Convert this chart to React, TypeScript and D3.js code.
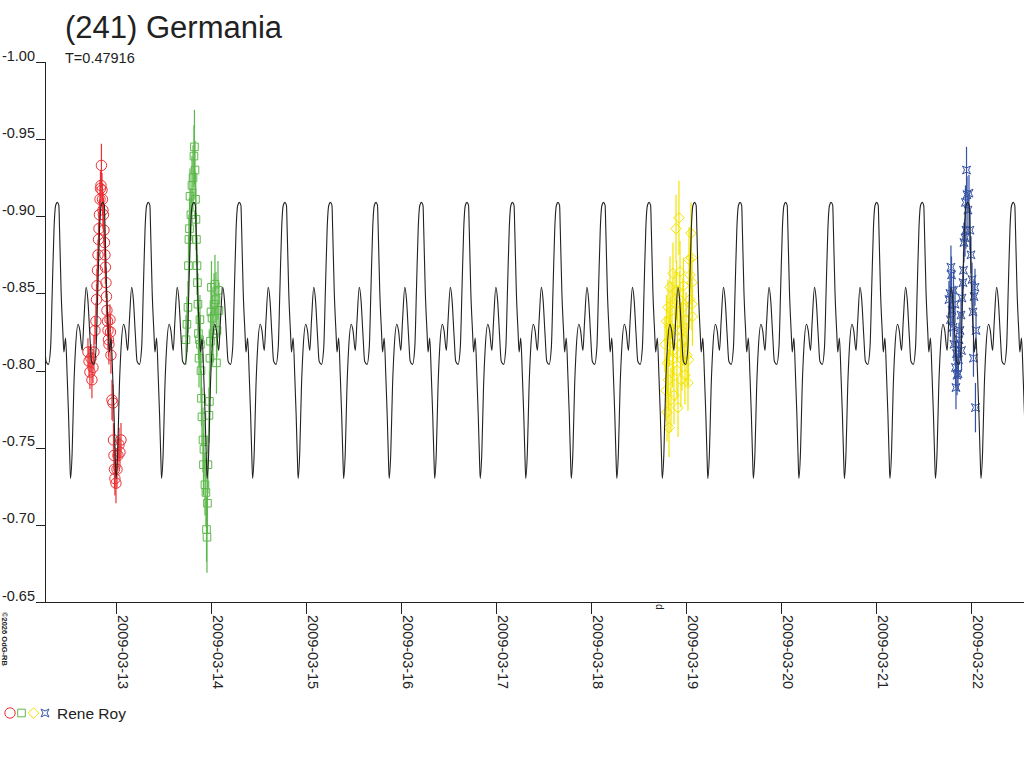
import { useRef, useEffect } from "react";
import * as d3 from "d3";

// [JD - 2454900, relative magnitude, error]
type Obs = [number, number, number];

const title = "(241) Germania";
const periodLabel = "T=0.47916";
const period = 0.47916;
const epoch = 5.758; // a maximum, JD - 2454900
const jdOffset = 2454900;
const observer = "Rene Roy";
const credit = "©2026 OdG-RB";
const unitLabel = "d";

const timeDomain = [2.753, 13.058];
const magDomain = [-1.0, -0.65];

const dateTicks = [
  "2009-03-13",
  "2009-03-14",
  "2009-03-15",
  "2009-03-16",
  "2009-03-17",
  "2009-03-18",
  "2009-03-19",
  "2009-03-20",
  "2009-03-21",
  "2009-03-22",
];
const magTicks = [-1.0, -0.95, -0.9, -0.85, -0.8, -0.75, -0.7, -0.65];

// one cycle of the fitted lightcurve: [phase, magnitude]
const modelProfile: [number, number][] = [
  [0.0, -0.909],
  [0.033, -0.907],
  [0.048, -0.892],
  [0.083, -0.851],
  [0.121, -0.825],
  [0.143, -0.812],
  [0.18, -0.821],
  [0.215, -0.797],
  [0.246, -0.771],
  [0.275, -0.741],
  [0.29, -0.73],
  [0.325, -0.747],
  [0.362, -0.789],
  [0.4, -0.815],
  [0.457, -0.83],
  [0.494, -0.826],
  [0.545, -0.813],
  [0.582, -0.832],
  [0.633, -0.854],
  [0.67, -0.846],
  [0.714, -0.823],
  [0.751, -0.806],
  [0.802, -0.804],
  [0.852, -0.815],
  [0.89, -0.854],
  [0.927, -0.892],
  [0.962, -0.907],
];

const redObs: Obs[] = [
  [3.205, -0.812, 0.009], [3.216, -0.806, 0.01], [3.226, -0.799, 0.011],
  [3.237, -0.808, 0.009], [3.247, -0.794, 0.012], [3.258, -0.802, 0.01],
  [3.268, -0.812, 0.011], [3.279, -0.826, 0.009], [3.289, -0.832, 0.012],
  [3.295, -0.846, 0.01], [3.3, -0.855, 0.011], [3.305, -0.865, 0.012],
  [3.311, -0.875, 0.01], [3.316, -0.885, 0.011], [3.321, -0.892, 0.009],
  [3.326, -0.901, 0.01], [3.332, -0.911, 0.012], [3.337, -0.918, 0.011],
  [3.342, -0.92, 0.01], [3.347, -0.933, 0.014], [3.353, -0.917, 0.011],
  [3.358, -0.911, 0.01], [3.363, -0.904, 0.012], [3.368, -0.901, 0.011],
  [3.374, -0.891, 0.01], [3.379, -0.883, 0.009], [3.384, -0.875, 0.012],
  [3.389, -0.867, 0.011], [3.395, -0.857, 0.01], [3.4, -0.848, 0.012],
  [3.405, -0.839, 0.011], [3.411, -0.832, 0.01], [3.416, -0.826, 0.012],
  [3.421, -0.82, 0.011], [3.426, -0.817, 0.013], [3.437, -0.833, 0.01],
  [3.442, -0.825, 0.011], [3.447, -0.81, 0.012], [3.458, -0.781, 0.013],
  [3.468, -0.779, 0.012], [3.474, -0.755, 0.011], [3.479, -0.745, 0.01],
  [3.484, -0.736, 0.012], [3.489, -0.73, 0.011], [3.5, -0.727, 0.013],
  [3.511, -0.736, 0.012], [3.521, -0.745, 0.01], [3.532, -0.752, 0.011],
  [3.542, -0.747, 0.01], [3.553, -0.755, 0.011],
];

const greenObs: Obs[] = [
  [4.237, -0.82, 0.016], [4.247, -0.83, 0.018], [4.258, -0.841, 0.017],
  [4.263, -0.868, 0.019], [4.268, -0.885, 0.016], [4.274, -0.892, 0.02],
  [4.279, -0.913, 0.018], [4.289, -0.901, 0.017], [4.3, -0.92, 0.019],
  [4.311, -0.925, 0.021], [4.321, -0.939, 0.02], [4.326, -0.945, 0.024],
  [4.332, -0.93, 0.019], [4.337, -0.911, 0.018], [4.342, -0.898, 0.02],
  [4.347, -0.885, 0.017], [4.353, -0.868, 0.019], [4.358, -0.857, 0.018],
  [4.363, -0.843, 0.02], [4.368, -0.824, 0.017], [4.374, -0.808, 0.019],
  [4.379, -0.82, 0.018], [4.384, -0.833, 0.016], [4.389, -0.817, 0.019],
  [4.395, -0.8, 0.02], [4.4, -0.782, 0.018], [4.405, -0.77, 0.019],
  [4.416, -0.755, 0.021], [4.421, -0.739, 0.02], [4.426, -0.749, 0.018],
  [4.437, -0.726, 0.02], [4.447, -0.721, 0.022], [4.453, -0.697, 0.021],
  [4.458, -0.692, 0.023], [4.463, -0.714, 0.02], [4.468, -0.739, 0.019],
  [4.479, -0.771, 0.018], [4.484, -0.78, 0.02], [4.489, -0.808, 0.017],
  [4.495, -0.819, 0.019], [4.5, -0.838, 0.018], [4.505, -0.854, 0.017],
  [4.511, -0.834, 0.019], [4.521, -0.824, 0.018], [4.532, -0.843, 0.02],
  [4.542, -0.856, 0.019], [4.553, -0.846, 0.018], [4.558, -0.805, 0.02],
  [4.563, -0.826, 0.017], [4.574, -0.852, 0.019], [4.584, -0.839, 0.018],
];

const yellowObs: Obs[] = [
  [9.279, -0.817, 0.018], [9.289, -0.787, 0.02], [9.295, -0.832, 0.017],
  [9.3, -0.773, 0.019], [9.305, -0.805, 0.021], [9.311, -0.841, 0.018],
  [9.316, -0.794, 0.02], [9.321, -0.763, 0.019], [9.326, -0.82, 0.017],
  [9.332, -0.854, 0.02], [9.337, -0.828, 0.018], [9.342, -0.781, 0.021],
  [9.353, -0.839, 0.019], [9.358, -0.807, 0.018], [9.363, -0.863, 0.02],
  [9.368, -0.813, 0.017], [9.374, -0.784, 0.019], [9.384, -0.846, 0.018],
  [9.395, -0.892, 0.022], [9.4, -0.852, 0.019], [9.405, -0.8, 0.018],
  [9.411, -0.826, 0.02], [9.416, -0.776, 0.019], [9.426, -0.899, 0.024],
  [9.432, -0.846, 0.018], [9.437, -0.864, 0.02], [9.442, -0.817, 0.019],
  [9.447, -0.794, 0.018], [9.453, -0.826, 0.017], [9.458, -0.807, 0.02],
  [9.468, -0.841, 0.019], [9.474, -0.855, 0.018], [9.479, -0.82, 0.017],
  [9.489, -0.797, 0.019], [9.5, -0.833, 0.018], [9.511, -0.81, 0.02],
  [9.521, -0.792, 0.018], [9.526, -0.807, 0.017], [9.532, -0.872, 0.021],
  [9.537, -0.846, 0.019], [9.542, -0.862, 0.018], [9.553, -0.889, 0.02],
  [9.558, -0.873, 0.019], [9.563, -0.857, 0.018], [9.563, -0.843, 0.017],
  [9.568, -0.835, 0.019],
];

const blueObs: Obs[] = [
  [12.268, -0.846, 0.012], [12.279, -0.85, 0.013], [12.284, -0.833, 0.011],
  [12.289, -0.867, 0.014], [12.295, -0.862, 0.012], [12.3, -0.839, 0.011],
  [12.311, -0.828, 0.013], [12.316, -0.852, 0.012], [12.321, -0.817, 0.011],
  [12.332, -0.843, 0.012], [12.337, -0.802, 0.013], [12.342, -0.789, 0.014],
  [12.347, -0.811, 0.012], [12.353, -0.797, 0.013], [12.363, -0.798, 0.011],
  [12.368, -0.807, 0.012], [12.374, -0.82, 0.011], [12.384, -0.826, 0.012],
  [12.395, -0.836, 0.011], [12.4, -0.813, 0.013], [12.405, -0.847, 0.012],
  [12.416, -0.857, 0.011], [12.421, -0.865, 0.012], [12.426, -0.883, 0.013],
  [12.437, -0.886, 0.012], [12.442, -0.909, 0.011], [12.447, -0.891, 0.012],
  [12.453, -0.93, 0.015], [12.458, -0.914, 0.012], [12.468, -0.904, 0.011],
  [12.479, -0.915, 0.012], [12.489, -0.891, 0.013], [12.5, -0.875, 0.012],
  [12.511, -0.859, 0.011], [12.521, -0.838, 0.013], [12.526, -0.808, 0.012],
  [12.532, -0.848, 0.011], [12.542, -0.854, 0.012], [12.547, -0.776, 0.016],
  [12.553, -0.826, 0.012],
];

const sessions = [
  { obs: redObs, color: "#ec2f33", symbol: "circle" },
  { obs: greenObs, color: "#5db94c", symbol: "square" },
  { obs: yellowObs, color: "#f2e400", symbol: "diamond" },
  { obs: blueObs, color: "#3552a4", symbol: "star" },
];

function markerPath(symbol: string) {
  if (symbol === "circle") {
    const p = d3.path();
    p.arc(0, 0, 5.2, 0, 2 * Math.PI);
    return p.toString();
  }
  if (symbol === "square") return "M-3.8,-3.8H3.8V3.8H-3.8Z";
  if (symbol === "diamond") return "M0,-5.3L5.3,0L0,5.3L-5.3,0Z";
  return "M-4,-4L0,-2L4,-4L2,0L4,4L0,2L-4,4L-2,0Z";
}

function App() {
  const svgRef = useRef<SVGSVGElement>(null);

  useEffect(() => {
    drawChart();
  }, []);

  function drawChart() {
    if (!svgRef.current) return;

    const svg = d3.select(svgRef.current);
    svg.selectAll("*").remove();

    const left = 45;
    const right = 1024;
    const top = 62;
    const bottom = 602;
    const ink = "#222";
    const font = "'Liberation Sans', Arial, sans-serif";

    const x = d3.scaleLinear().domain(timeDomain).range([left, right]);
    const y = d3.scaleLinear().domain(magDomain).range([top, bottom]);

    svg.append("rect").attr("width", 1024).attr("height", 768).attr("fill", "#fff");

    svg
      .append("defs")
      .append("clipPath")
      .attr("id", "plot-clip")
      .append("rect")
      .attr("x", left + 1)
      .attr("y", top)
      .attr("width", right - left)
      .attr("height", bottom - top);

    // titles
    svg
      .append("text")
      .text(title)
      .attr("x", 65)
      .attr("y", 38)
      .attr("font-family", font)
      .attr("font-size", "31px")
      .attr("fill", ink);

    svg
      .append("text")
      .text(periodLabel)
      .attr("x", 65)
      .attr("y", 63)
      .attr("font-family", font)
      .attr("font-size", "14.5px")
      .attr("fill", ink);

    // y axis
    svg
      .append("line")
      .attr("x1", left + 0.5)
      .attr("x2", left + 0.5)
      .attr("y1", top)
      .attr("y2", bottom)
      .attr("stroke", ink);

    const yTick = svg.append("g").selectAll("g").data(magTicks).join("g");
    yTick
      .append("line")
      .attr("x1", 36)
      .attr("x2", left)
      .attr("y1", (d) => Math.round(y(d)) + 0.5)
      .attr("y2", (d) => Math.round(y(d)) + 0.5)
      .attr("stroke", ink);
    yTick
      .append("text")
      .text((d) => d.toFixed(2))
      .attr("x", 35)
      .attr("y", (d) => y(d) - 1.5)
      .attr("text-anchor", "end")
      .attr("font-family", font)
      .attr("font-size", "14.5px")
      .attr("fill", ink);

    // x axis
    svg
      .append("line")
      .attr("x1", 36)
      .attr("x2", right)
      .attr("y1", bottom + 0.5)
      .attr("y2", bottom + 0.5)
      .attr("stroke", ink);

    const toJd = (s: string) => Date.parse(s) / 86400000 + 2440587.5 - jdOffset;

    const xTick = svg.append("g").selectAll("g").data(dateTicks).join("g");
    xTick
      .append("line")
      .attr("x1", (d) => Math.round(x(toJd(d))) + 0.5)
      .attr("x2", (d) => Math.round(x(toJd(d))) + 0.5)
      .attr("y1", bottom)
      .attr("y2", bottom + 12)
      .attr("stroke", ink);
    xTick
      .append("text")
      .text((d) => d)
      .attr("transform", (d) => `translate(${Math.round(x(toJd(d))) + 2}, 615) rotate(90)`)
      .attr("font-family", font)
      .attr("font-size", "14.5px")
      .attr("fill", ink);

    svg
      .append("text")
      .text(unitLabel)
      .attr("transform", "translate(656, 604) rotate(90)")
      .attr("font-family", font)
      .attr("font-size", "10px")
      .attr("fill", ink);

    svg
      .append("text")
      .text(credit)
      .attr("transform", "translate(2, 612) rotate(90)")
      .attr("font-family", font)
      .attr("font-size", "7.5px")
      .attr("font-weight", "bold")
      .attr("fill", ink);

    // observations
    const plot = svg.append("g").attr("clip-path", "url(#plot-clip)");

    sessions.forEach((s) => {
      const g = plot.append("g");
      g.selectAll("line")
        .data(s.obs)
        .join("line")
        .attr("x1", (d) => x(d[0]))
        .attr("x2", (d) => x(d[0]))
        .attr("y1", (d) => y(d[1] - d[2]))
        .attr("y2", (d) => y(d[1] + d[2]))
        .attr("stroke", s.color)
        .attr("stroke-width", 1.2);
      g.selectAll("path")
        .data(s.obs)
        .join("path")
        .attr("d", markerPath(s.symbol))
        .attr("transform", (d) => `translate(${x(d[0])}, ${y(d[1])})`)
        .attr("fill", "none")
        .attr("stroke", s.color)
        .attr("stroke-width", 1);
    });

    // fitted lightcurve, repeated over the period
    const kStart = Math.floor((timeDomain[0] - epoch) / period) - 1;
    const kEnd = Math.ceil((timeDomain[1] - epoch) / period) + 1;
    const model: [number, number][] = [];
    for (let k = kStart; k <= kEnd; k++) {
      modelProfile.forEach(([ph, m]) => {
        model.push([epoch + (k + ph) * period, m]);
      });
    }

    const line = d3
      .line<[number, number]>()
      .x((d) => x(d[0]))
      .y((d) => y(d[1]))
      .curve(d3.curveMonotoneX);

    plot
      .append("path")
      .datum(model)
      .attr("d", line)
      .attr("fill", "none")
      .attr("stroke", ink)
      .attr("stroke-width", 1.1);

    // legend
    const legend = svg.append("g").attr("transform", "translate(0, 713)");
    const legendX = [10, 21.5, 33.5, 45];
    sessions.forEach((s, i) => {
      legend
        .append("path")
        .attr("d", markerPath(s.symbol))
        .attr("transform", `translate(${legendX[i]}, 0)`)
        .attr("fill", "none")
        .attr("stroke", s.color);
    });
    legend
      .append("text")
      .text(observer)
      .attr("x", 57)
      .attr("y", 5.5)
      .attr("font-family", font)
      .attr("font-size", "15.5px")
      .attr("fill", ink);
  }

  return (
    <svg
      ref={svgRef}
      width={1024}
      height={768}
      style={{ position: "absolute", left: 0, top: 0 }}
    />
  );
}

export default App;
